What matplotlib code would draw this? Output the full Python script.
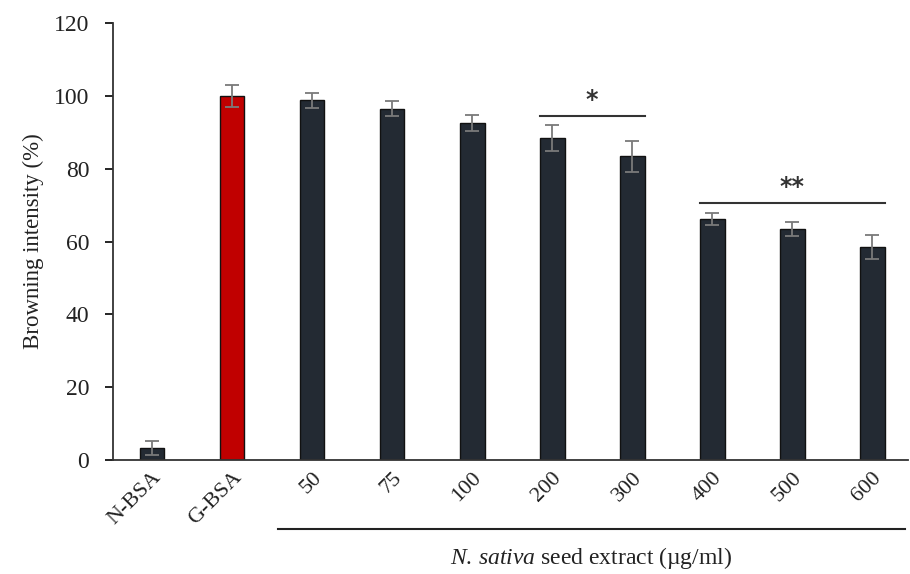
import numpy as np
import matplotlib.pyplot as plt
from matplotlib.transforms import blended_transform_factory

plt.rcParams['font.family'] = ['Liberation Serif', 'DejaVu Serif']
plt.rcParams['mathtext.fontset'] = 'custom'
plt.rcParams['mathtext.rm'] = 'Liberation Serif'
plt.rcParams['mathtext.it'] = 'Liberation Serif:italic'

# 数据
groups = ['N-BSA', 'G-BSA', '50', '75', '100', '200', '300', '400', '500', '600']
values = [3.3, 100.0, 98.8, 96.5, 92.6, 88.4, 83.4, 66.2, 63.4, 58.5]
errors = [2.0, 3.0, 2.0, 2.0, 2.2, 3.6, 4.2, 1.6, 2.0, 3.2]
colors = ['#232a33', '#c00000'] + ['#232a33'] * 8

# 显著性标记: (起始组, 结束组, 线高度, 符号)
sig_marks = [(5, 6, 94.5, '*'), (7, 9, 70.5, '**')]

fig = plt.figure(figsize=(9.1, 5.74), dpi=100)
ax = fig.add_axes([0.124, 0.1986, 0.874, 0.7613])

x = np.arange(len(groups))
w = 0.31
ax.bar(x, values, width=w, color=colors, edgecolor='#111111', linewidth=1.0,
       yerr=errors, error_kw=dict(ecolor='#7a7a7a', elinewidth=1.3, capsize=5, capthick=1.3))

ax.set_xlim(-0.49, 9.45)
ax.set_ylim(0, 120)
ax.set_yticks(np.arange(0, 121, 20))
ax.tick_params(axis='y', labelsize=17, length=6, width=1.2, direction='out', pad=11,
               labelcolor='#222222')
ax.tick_params(axis='x', length=0, labelsize=16, pad=6, labelcolor='#222222')
ax.set_xticks(x)
ax.set_xticklabels(groups, rotation=45, ha='right', rotation_mode='anchor')
ax.set_ylabel('Browning intensity (%)', fontsize=16.5, labelpad=7, color='#222222')

for s in ['top', 'right']:
    ax.spines[s].set_visible(False)
for s in ['left', 'bottom']:
    ax.spines[s].set_linewidth(1.3)
    ax.spines[s].set_color('#333333')

# 显著性线和星号
for a, b, h, txt in sig_marks:
    ax.plot([a - w / 2, b + w / 2], [h, h], color='#333333', lw=1.5)
    ax.text((a + b) / 2, h + 1.2, txt, ha='center', va='bottom', fontsize=17,
            fontweight='bold', color='#333333', family='DejaVu Sans')

# 浓度分组线
tr = blended_transform_factory(ax.transData, ax.transAxes)
ax.plot([1.57, 9.41], [-0.158, -0.158], color='#222222', lw=1.5,
        transform=tr, clip_on=False)
ax.text((1.57 + 9.41) / 2, -0.195, r'$\it{N.\,sativa}$ seed extract (µg/ml)', transform=tr,
        ha='center', va='top', fontsize=17, color='#222222')

fig.savefig('out.png', dpi=100)
